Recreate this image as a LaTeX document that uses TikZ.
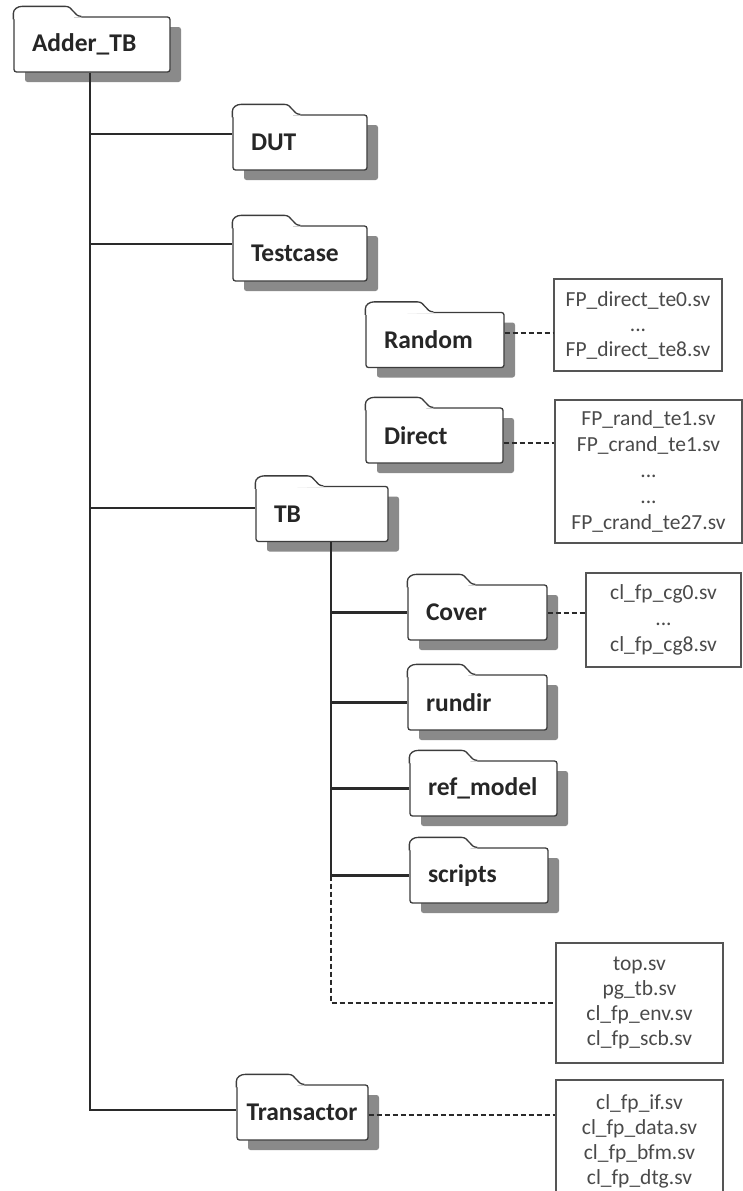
\documentclass[tikz,border=0pt]{standalone}
\usepackage{fontspec}
\setmainfont{Carlito}
\usetikzlibrary{shadows}

\definecolor{inkline}{HTML}{2A2A2A}
\definecolor{folderedge}{HTML}{3C3C3C}
\definecolor{shade}{HTML}{8A8A8A}
\definecolor{filetext}{HTML}{4A4A4A}
\definecolor{fileedge}{HTML}{555555}

\tikzset{
  folder/.style={draw=folderedge, line width=1.3pt, fill=white, rounded corners=2.5pt,
    minimum height=55pt, inner xsep=18pt, inner ysep=0pt, align=left,
    font=\fontsize{25.5}{28}\selectfont\bfseries, text=black!85,
    drop shadow={shadow xshift=11pt, shadow yshift=-10pt, fill=shade, opacity=1}},
  filebox/.style={draw=fileedge, line width=1.2pt, fill=white, inner sep=0pt,
    align=center, font=\fontsize{21.5}{25}\selectfont, text=filetext},
  tabedge/.style={draw=folderedge, line width=1.3pt, line join=round},
  trunk/.style={draw=inkline, line width=2.3pt},
  leader/.style={draw=inkline, line width=2pt, dash pattern=on 5pt off 3pt},
}

% tab on the upper left of a folder node
\newcommand\foldertab[1]{%
  \fill[white] ([shift={(0.7,3)}]#1.north west) -- ([shift={(0.7,-3)}]#1.north west)
    to[out=90,in=180] ([shift={(9,-10)}]#1.north west) -- ([shift={(52,-10)}]#1.north west)
    .. controls ([shift={(60,-10)}]#1.north west) and ([shift={(60,0)}]#1.north west) ..
    ([shift={(68,0)}]#1.north west) -- ([shift={(68,1.2)}]#1.north west) -- cycle;
  \draw[tabedge] ([shift={(0,3)}]#1.north west) -- ([shift={(0,-3)}]#1.north west)
    to[out=90,in=180] ([shift={(9,-10)}]#1.north west) -- ([shift={(52,-10)}]#1.north west)
    .. controls ([shift={(60,-10)}]#1.north west) and ([shift={(60,0)}]#1.north west) ..
    ([shift={(68,0)}]#1.north west);
}

\begin{document}
\begin{tikzpicture}[x=1pt,y=-1pt]
\fill[white] (0,0) rectangle (743,1191);
\useasboundingbox (0,0) rectangle (743,1191);

% folders
\node[folder, text width=120pt] (adder)    at (92,44.5)    {Adder\_TB};
\node[folder, text width=98pt]  (dut)      at (300,142.5)  {DUT};
\node[folder, text width=98pt]  (testcase) at (300,253.5)  {Testcase};
\node[folder, text width=102pt] (random)   at (435,340)    {Random};
\node[folder, text width=101pt] (direct)   at (434.5,435.5){Direct};
\node[folder, text width=96pt]  (tb)       at (322,514)    {TB};
\node[folder, text width=103pt] (cover)    at (477.5,612.5){Cover};
\node[folder, text width=103pt] (rundir)   at (477.5,702.5){rundir};
\node[folder, text width=111pt] (refmodel) at (483.5,788.5){ref\_model};
\node[folder, text width=102pt] (scripts)  at (479,875.5)  {scripts};
\node[folder, text width=112pt, inner xsep=9.5pt] (trans) at (302.5,1112.5) {Transactor};

\foreach \f in {adder,dut,testcase,random,direct,tb,cover,rundir,refmodel,scripts,trans}
  {\foldertab{\f}}

% file lists
\node[filebox, minimum width=168pt, minimum height=92pt] (fRandom) at (638,325)
  {FP\_direct\_te0.sv\\...\\FP\_direct\_te8.sv};
\node[filebox, minimum width=187pt, minimum height=143pt,
  font=\fontsize{21.5}{26}\selectfont] (fDirect) at (648.5,471.5)
  {FP\_rand\_te1.sv\\FP\_crand\_te1.sv\\...\\...\\FP\_crand\_te27.sv};
\node[filebox, minimum width=155pt, minimum height=94pt,
  font=\fontsize{21.5}{26}\selectfont] (fCover) at (663.5,620)
  {cl\_fp\_cg0.sv\\...\\cl\_fp\_cg8.sv};
\node[filebox, minimum width=167pt, minimum height=120pt] (fTB) at (639.5,1003)
  {top.sv\\pg\_tb.sv\\cl\_fp\_env.sv\\cl\_fp\_scb.sv};
\node[filebox, minimum width=167pt, minimum height=122pt] (fTrans) at (639.5,1141)
  {cl\_fp\_if.sv\\cl\_fp\_data.sv\\cl\_fp\_bfm.sv\\cl\_fp\_dtg.sv};

% main tree
\coordinate (root) at ([xshift=-2pt]adder.south);
\draw[trunk] (root) |- ([yshift=2.5pt]trans.west);
\draw[trunk] ([yshift=8.5pt]dut.west -| root) -- ([yshift=8.5pt]dut.west);
\draw[trunk] ([yshift=9.5pt]testcase.west -| root) -- ([yshift=9.5pt]testcase.west);
\draw[trunk] ([yshift=6pt]tb.west -| root) -- ([yshift=6pt]tb.west);

% TB subtree
\coordinate (tbroot) at ([xshift=9pt]tb.south);
\draw[trunk] (tbroot) -- (tbroot |- scripts.west);
\foreach \f in {cover,rundir,refmodel,scripts}
  {\draw[trunk] (\f.west -| tbroot) -- (\f.west);}
\draw[leader] (scripts.west -| tbroot) |- (fTB.west);

% links to file lists
\draw[leader] ([yshift=7pt]random.east) -- ([yshift=7pt]random.east -| fRandom.west);
\draw[leader] ([yshift=-7.5pt]direct.east) -- ([yshift=-7.5pt]direct.east -| fDirect.west);
\draw[leader] (cover.east) -- (cover.east -| fCover.west);
\draw[leader] ([yshift=-2.5pt]trans.east) -- ([yshift=-2.5pt]trans.east -| fTrans.west);
\end{tikzpicture}
\end{document}
